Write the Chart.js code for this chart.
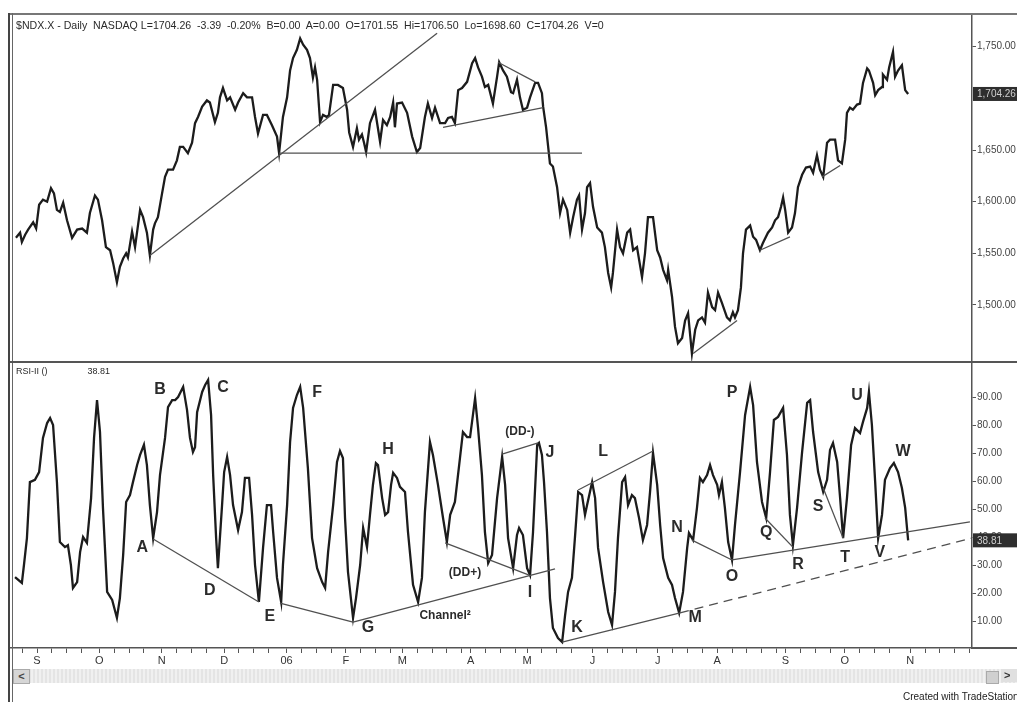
<!DOCTYPE html>
<html>
<head>
<meta charset="utf-8">
<script src="https://cdn.jsdelivr.net/npm/chart.js@4.4.1/dist/chart.umd.min.js"></script>
<style>
  body { margin: 0; width: 1017px; height: 702px; background: #fff; position: relative; overflow: hidden;
         font-family: "Liberation Sans", Arial, sans-serif; color: #333; }
  canvas { position: absolute; }
  #priceChart { left: 10px; top: 15px; }
  #rsiChart { left: 10px; top: 362px; }
  .hline { position: absolute; height: 1px; background: #555; }
  .frameL { position: absolute; left: 8px; top: 13px; width: 2px; height: 689px; background: #444; }
  .frameL2 { position: absolute; left: 12px; top: 13px; width: 1px; height: 689px; background: #666; }
  .frameT { position: absolute; left: 8px; top: 13px; width: 1009px; height: 2px; background: #777; }
  .hdr { position: absolute; left: 16px; top: 19px; font-size: 10.6px; line-height: 12px; white-space: pre; color: #2a2a2a; }
  .rsihdr { position: absolute; left: 16px; top: 366px; font-size: 9px; line-height: 11px; white-space: pre; color: #2a2a2a; }
  .scroll { position: absolute; left: 13px; top: 669px; width: 1004px; height: 14px;
            background: repeating-linear-gradient(90deg, #e4e4e4 0 2px, #f0f0f0 2px 4px); }
  .btnL { position: absolute; left: 13px; top: 669px; width: 15px; height: 13px; background: #d6d6d6;
          border: 1px solid #aaa; font-size: 11px; line-height: 13px; text-align: center; font-weight: bold; color: #444; }
  .btnR1 { position: absolute; left: 986px; top: 671px; width: 11px; height: 11px; background: #d0d0d0; border: 1px solid #aaa; }
  .btnR2 { position: absolute; left: 1001px; top: 669px; width: 16px; height: 13px; background: #e0e0e0;
           font-size: 11px; line-height: 13px; font-weight: bold; color: #333; padding-left: 3px; }
  .credit { position: absolute; left: 903px; top: 691px; font-size: 10px; line-height: 11px; white-space: nowrap; color: #222; }
</style>
</head>
<body>
<canvas id="priceChart" width="1007" height="347"></canvas>
<canvas id="rsiChart" width="1007" height="308"></canvas>

<div class="frameT"></div>
<div class="frameL"></div>
<div class="frameL2"></div>
<div class="hline" style="left:10px; top:361px; width:1007px; height:1.5px;"></div>
<div class="hline" style="left:972px; top:647px; width:45px; height:1.5px;"></div>
<div class="hdr">$NDX.X - Daily  NASDAQ L=1704.26  -3.39  -0.20%  B=0.00  A=0.00  O=1701.55  Hi=1706.50  Lo=1698.60  C=1704.26  V=0</div>
<div class="rsihdr">RSI-II ()                38.81</div>
<div class="scroll"></div>
<div class="btnL">&lt;</div>
<div class="btnR1"></div>
<div class="btnR2">&gt;</div>
<div class="credit">Created with TradeStation</div>

<script>
// x axis: trading day index, 0 = first trading day of Sep 2005
const monthDays = [0, 21, 42, 63, 84, 104, 123, 146, 165, 187, 209, 229, 252, 272, 294];
const monthNames = ['S', 'O', 'N', 'D', '06', 'F', 'M', 'A', 'M', 'J', 'J', 'A', 'S', 'O', 'N'];

const priceTicks = [1500, 1550, 1600, 1650, 1750];
const rsiTicks = [10, 20, 30, 40, 50, 60, 70, 80, 90];

const priceDay = [
  -7.1, -5.7, -5.1, -4.0, -3.0, -1.3, -0.3, 0.7, 2.0, 3.4,
  4.7, 5.7, 6.7, 7.7, 8.8, 10.1, 11.8, 13.5, 15.2, 16.8,
  17.8, 19.5, 20.5, 21.9, 23.2, 24.6, 25.6, 26.9, 27.9, 29.0,
  30.0, 30.6, 32.0, 33.0, 34.7, 35.7, 37.0, 38.0, 39.1, 39.7,
  40.7, 42.1, 43.1, 44.1, 45.8, 47.1, 48.1, 49.2, 50.8, 52.2,
  53.2, 54.2, 55.6, 57.2, 58.2, 59.9, 60.9, 61.6, 62.6, 64.0,
  65.0, 66.7, 67.7, 69.4, 70.7, 72.4, 73.4, 74.4, 76.1, 77.4,
  79.1, 80.8, 81.5, 82.8, 84.2, 85.2, 86.2, 87.5, 88.6, 89.6,
  90.9, 91.9, 92.9, 93.6, 94.3, 95.3, 96.3, 97.6, 98.3, 99.7,
  101.3, 103.0, 104.4, 105.1, 106.4, 107.7, 108.4, 109.4, 110.1, 110.8,
  112.1, 113.8, 115.5, 116.5, 117.8, 118.9, 119.9, 120.5, 121.2, 122.9,
  124.6, 126.3, 127.9, 129.0, 130.6, 131.6, 133.0, 134.0, 135.7, 137.4,
  138.4, 139.7, 140.7, 141.8, 143.1, 144.8, 146.5, 147.5, 148.5, 149.8,
  150.8, 151.9, 153.5, 154.9, 155.6, 156.9, 158.2, 159.6, 160.3, 161.6,
  162.6, 163.6, 165.0, 166.0, 167.7, 168.7, 170.0, 170.4, 171.4, 172.1,
  172.7, 173.7, 175.1, 176.1, 177.1, 178.5, 179.5, 180.5, 181.8, 182.5,
  183.5, 184.5, 185.2, 186.2, 187.2, 188.6, 190.2, 191.2, 192.3, 193.3,
  193.9, 195.3, 196.3, 197.3, 198.7, 199.7, 200.7, 202.0, 203.7, 204.7,
  205.7, 207.4, 208.8, 209.8, 210.8, 212.1, 212.5, 213.8, 214.8, 215.8,
  217.2, 218.2, 219.2, 220.5, 221.6, 222.6, 223.9, 224.9, 225.9, 227.3,
  228.3, 229.3, 230.6, 232.3, 233.3, 234.3, 235.0, 236.0, 237.0, 237.7,
  238.7, 240.1, 241.1, 242.1, 243.4, 244.4, 246.1, 247.5, 248.5, 249.5,
  250.5, 251.2, 251.9, 252.9, 254.2, 255.2, 256.2, 257.6, 258.9, 260.3,
  261.3, 262.6, 263.6, 264.7, 266.0, 267.0, 268.7, 269.7, 271.0, 272.1,
  272.7, 273.7, 274.7, 276.1, 277.1, 278.1, 279.5, 280.1, 281.5, 282.2,
  283.2, 284.5, 284.8, 286.2, 286.9, 288.2, 288.9, 289.9, 291.2, 292.3, 293.3
];
const priceVal = [
  1565, 1570, 1561, 1568, 1573, 1580, 1574, 1597, 1602, 1600,
  1613, 1608, 1592, 1590, 1599, 1582, 1565, 1573, 1574, 1570,
  1589, 1606, 1602, 1582, 1556, 1553, 1541, 1522, 1537, 1545,
  1550, 1546, 1571, 1556, 1592, 1585, 1570, 1548, 1573, 1579,
  1585, 1608, 1624, 1631, 1631, 1640, 1653, 1653, 1647, 1657,
  1676, 1682, 1692, 1698, 1696, 1677, 1686, 1701, 1710, 1698,
  1701, 1689, 1696, 1705, 1701, 1701, 1682, 1666, 1684, 1684,
  1674, 1663, 1647, 1682, 1701, 1727, 1739, 1747, 1758, 1752,
  1747, 1739, 1720, 1730, 1718, 1677, 1684, 1682, 1684, 1713,
  1713, 1710, 1689, 1667, 1653, 1671, 1660, 1665, 1657, 1648,
  1676, 1689, 1658, 1679, 1674, 1682, 1696, 1672, 1695, 1696,
  1686, 1663, 1648, 1652, 1682, 1695, 1681, 1691, 1676, 1676,
  1681, 1682, 1676, 1708, 1710, 1716, 1734, 1739, 1730, 1721,
  1711, 1713, 1695, 1721, 1735, 1727, 1721, 1706, 1705, 1718,
  1701, 1689, 1691, 1701, 1715, 1715, 1705, 1692, 1672, 1653,
  1637, 1634, 1614, 1589, 1602, 1592, 1570, 1585, 1602, 1606,
  1573, 1589, 1614, 1618, 1595, 1575, 1570, 1556, 1531, 1517,
  1531, 1573, 1556, 1550, 1570, 1573, 1553, 1556, 1527, 1550,
  1585, 1585, 1553, 1546, 1534, 1524, 1534, 1508, 1479, 1463,
  1468, 1485, 1492, 1453, 1476, 1485, 1488, 1483, 1512, 1498,
  1495, 1512, 1502, 1488, 1485, 1493, 1488, 1495, 1517, 1550,
  1573, 1577, 1566, 1563, 1553, 1560, 1570, 1575, 1582, 1585,
  1595, 1604, 1592, 1570, 1575, 1589, 1614, 1626, 1633, 1634,
  1628, 1645, 1631, 1624, 1657, 1660, 1660, 1640, 1637, 1660,
  1686, 1691, 1689, 1694, 1695, 1715, 1729, 1727, 1715, 1703,
  1708, 1711, 1723, 1718, 1730, 1745, 1721, 1727, 1732, 1708, 1704.26
];

const rsiDay = [
  -7.4, -5.1, -4.4, -3.4, -2.4, -0.7, 0.7, 2.0, 3.4, 4.4,
  5.4, 6.7, 7.7, 9.4, 10.4, 11.4, 12.1, 13.5, 14.5, 15.5,
  16.8, 18.2, 19.2, 20.2, 21.2, 22.2, 23.6, 25.3, 26.9, 27.9,
  29.0, 30.0, 31.3, 32.3, 33.7, 34.7, 36.0, 37.0, 38.0, 39.1,
  40.4, 41.4, 43.1, 44.1, 45.5, 46.5, 47.5, 49.2, 50.5, 51.5,
  52.5, 53.2, 53.9, 55.6, 56.6, 57.6, 58.6, 59.3, 60.3, 60.9,
  62.3, 63.0, 64.0, 65.0, 66.0, 67.7, 69.0, 70.0, 71.4, 72.4,
  73.4, 74.7, 76.1, 77.4, 78.8, 79.5, 80.8, 82.2, 82.8, 84.2,
  85.2, 86.2, 87.5, 88.6, 89.6, 91.2, 92.6, 94.3, 96.0, 97.0,
  98.0, 99.7, 101.0, 102.0, 103.0, 103.7, 104.7, 106.4, 107.4, 108.8,
  109.8, 111.1, 112.1, 113.1, 114.1, 114.8, 116.2, 117.2, 118.2, 119.2,
  119.9, 121.2, 122.2, 123.9, 124.9, 126.6, 128.3, 129.6, 130.6, 132.3,
  133.3, 135.0, 136.7, 138.0, 139.1, 140.7, 142.4, 143.4, 144.8, 145.8,
  147.5, 148.5, 149.8, 150.8, 151.9, 153.2, 154.9, 156.6, 157.6, 158.6,
  160.3, 161.6, 162.3, 163.6, 165.0, 166.0, 167.0, 168.4, 169.0, 170.0,
  170.7, 171.7, 172.7, 173.7, 175.4, 176.8, 177.8, 178.8, 180.1, 181.1,
  182.2, 183.5, 184.5, 185.2, 186.9, 187.9, 188.9, 190.6, 192.3, 193.6,
  194.6, 195.6, 197.0, 198.0, 199.0, 200.3, 201.3, 202.7, 204.0, 205.4,
  206.4, 207.4, 208.8, 209.8, 210.8, 212.5, 213.8, 214.8, 216.2, 217.5,
  218.9, 219.5, 220.9, 222.2, 223.2, 224.2, 225.6, 226.6, 227.6, 229.0,
  229.6, 230.6, 231.6, 232.7, 234.0, 235.0, 236.7, 238.4, 240.1, 241.1,
  242.4, 244.1, 245.5, 246.8, 248.1, 249.5, 251.2, 252.5, 253.5, 254.5,
  255.9, 257.6, 259.3, 260.3, 261.3, 263.0, 264.7, 266.0, 267.0, 268.0,
  269.4, 270.4, 271.4, 272.7, 274.1, 275.4, 277.1, 278.1, 279.5, 280.1,
  281.1, 282.2, 283.2, 284.5, 285.5, 287.2, 288.5, 289.9, 291.2, 292.3, 293.3
];
const rsiVal = [
  25.7, 23.6, 30.0, 39.6, 59.6, 60.4, 63.2, 75.4, 80.7, 82.5,
  80.0, 59.6, 38.2, 36.4, 37.1, 30.0, 21.8, 23.9, 34.6, 40.0,
  37.9, 53.9, 75.4, 88.9, 77.5, 50.4, 20.4, 17.5, 11.1, 18.2,
  33.6, 52.5, 55.0, 59.6, 65.7, 69.3, 72.9, 65.7, 51.4, 39.6,
  48.9, 62.1, 75.4, 86.4, 88.9, 88.9, 90.0, 93.6, 85.4, 75.4,
  70.4, 72.1, 84.6, 91.8, 94.3, 96.1, 83.6, 62.1, 39.6, 28.9,
  51.4, 63.2, 68.6, 62.1, 51.4, 42.5, 48.9, 61.1, 61.1, 47.9,
  30.0, 16.8, 36.1, 51.4, 51.4, 41.8, 25.4, 16.8, 30.0, 51.4,
  73.9, 86.1, 90.7, 93.6, 86.1, 64.6, 39.6, 28.9, 23.9, 21.8,
  34.6, 51.4, 66.8, 70.7, 68.2, 46.8, 27.5, 11.1, 18.2, 30.0,
  43.2, 36.4, 47.9, 58.6, 66.4, 65.7, 53.9, 47.9, 48.9, 58.6,
  62.9, 61.1, 57.9, 56.1, 41.8, 22.9, 16.8, 25.4, 48.9, 73.9,
  69.3, 58.6, 46.8, 38.2, 47.9, 52.5, 68.2, 77.5, 75.7, 75.7,
  89.6, 78.9, 62.1, 41.8, 30.7, 33.6, 53.9, 68.6, 58.6, 39.6,
  28.9, 40.7, 43.2, 40.7, 28.9, 26.4, 41.8, 72.9, 73.6, 69.3,
  59.6, 41.8, 18.2, 7.5, 3.9, 2.5, 12.1, 20.4, 25.4, 39.6,
  56.1, 55.0, 47.9, 51.4, 59.6, 53.9, 36.1, 23.9, 13.2, 8.6,
  20.4, 39.6, 59.6, 61.4, 51.4, 55.0, 53.9, 46.8, 38.9, 44.3,
  56.1, 70.0, 58.6, 44.3, 32.5, 25.4, 22.9, 18.2, 12.9, 20.4,
  36.1, 41.4, 38.9, 50.4, 61.1, 59.6, 62.1, 65.7, 62.1, 58.6,
  55.0, 59.6, 50.4, 38.2, 31.8, 44.3, 63.2, 83.6, 93.6, 87.1,
  66.8, 52.5, 46.8, 63.2, 81.8, 82.9, 86.1, 69.3, 47.9, 37.1,
  50.4, 70.4, 87.9, 88.9, 77.5, 63.2, 56.1, 60.4, 71.1, 73.6,
  66.8, 53.9, 39.6, 53.9, 72.9, 78.9, 77.1, 81.1, 86.1, 91.8,
  80.0, 59.6, 39.6, 47.9, 60.4, 64.6, 66.4, 63.2, 57.5, 50.4, 38.81
];

// trendlines: [day1, value1, day2, value2]
const priceLines = [
  [38.0, 1548, 134.7, 1763],
  [81.5, 1647, 183.5, 1647],
  [136.7, 1672, 170.4, 1691],
  [155.2, 1735, 167.7, 1716],
  [220.9, 1453, 235.7, 1485],
  [243.4, 1553, 253.5, 1566],
  [264.3, 1624, 270.4, 1635]
];
const rsiLines = [
  [39.1, 39.3, 74.7, 16.8],
  [81.8, 16.4, 106.4, 9.6],
  [106.4, 9.6, 174.4, 28.6],
  [137.4, 37.9, 165.7, 26.4],
  [156.6, 69.6, 168.7, 73.6],
  [182.2, 56.8, 207.4, 70.7],
  [176.8, 2.5, 216.5, 12.9],
  [220.5, 38.9, 234.0, 31.8],
  [234.0, 31.8, 314.1, 45.4],
  [245.1, 46.8, 254.5, 36.4],
  [264.7, 57.5, 271.4, 39.6]
];
const rsiDashed = [
  [216.5, 12.9, 314.8, 39.6]
];

// annotation letters: [text, day, value]
const rsiLetters = [
  ['A', 35.4, 36.1], ['B', 41.4, 92.5], ['C', 62.6, 93.2], ['D', 58.2, 20.7],
  ['E', 78.4, 11.4], ['F', 94.3, 91.4], ['G', 111.4, 7.5], ['H', 118.2, 71.1],
  ['I', 166.0, 20.0], ['J', 172.7, 70.0], ['K', 181.8, 7.5], ['L', 190.6, 70.4],
  ['M', 221.6, 11.1], ['N', 215.5, 43.2], ['O', 234.0, 25.7], ['P', 234.0, 91.4],
  ['Q', 245.5, 41.4], ['R', 256.2, 30.0], ['S', 263.0, 50.7], ['T', 272.1, 32.5],
  ['U', 276.1, 90.4], ['V', 283.8, 34.6], ['W', 291.6, 70.4]
];
const rsiNotes = [
  ['(DD+)', 144.1, 27.1], ['(DD-)', 162.6, 77.5], ['Channel\u00B2', 137.4, 11.8]
];

const xMin = -9.1, xMax = 314.8;
const FONT = '"Liberation Sans", Arial, sans-serif';
Chart.defaults.font.family = FONT;

const fmt2 = v => v.toLocaleString('en-US', { minimumFractionDigits: 2, maximumFractionDigits: 2 });

function weekTicks() {
  const t = [-5];
  monthDays.forEach((m, i) => {
    t.push(m);
    const next = i < monthDays.length - 1 ? monthDays[i + 1] : 318;
    for (let k = m + 5; k < next - 2; k += 5) t.push(k);
  });
  return t.filter(v => v > xMin && v < xMax);
}

function segs(list, dashed) {
  return list.map(s => ({
    data: [{ x: s[0], y: s[1] }, { x: s[2], y: s[3] }],
    borderColor: '#505050',
    borderWidth: 1.3,
    borderDash: dashed ? [9, 6] : [],
    pointRadius: 0
  }));
}

const lastBox = {
  id: 'lastBox',
  afterDraw(chart, args, opts) {
    const s = chart.scales.y, ctx = chart.ctx;
    const y = s.getPixelForValue(opts.value);
    ctx.save();
    ctx.fillStyle = '#2e2e2e';
    ctx.fillRect(s.left + 1, y - 7, s.width, 14);
    ctx.fillStyle = '#cfcfcf';
    ctx.font = '10px ' + FONT;
    ctx.textBaseline = 'middle';
    ctx.fillText(opts.text, s.left + 5, y + 0.5);
    ctx.restore();
  }
};

const letters = {
  id: 'letters',
  afterDatasetsDraw(chart, args, opts) {
    if (!opts.items) return;
    const { ctx, scales: { x, y } } = chart;
    ctx.save();
    ctx.fillStyle = '#2b2b2b';
    ctx.textAlign = 'center';
    ctx.textBaseline = 'middle';
    opts.items.forEach(it => {
      ctx.font = opts.font;
      ctx.fillText(it[0], x.getPixelForValue(it[1]), y.getPixelForValue(it[2]));
    });
    ctx.restore();
  }
};

function yAxis(min, max, ticks) {
  return {
    position: 'right',
    min: min, max: max,
    afterBuildTicks: s => { s.ticks = ticks.map(v => ({ value: v })); },
    afterFit: s => { s.width = 45; s.paddingTop = 0; s.paddingBottom = 0; },
    grid: { drawOnChartArea: false, tickLength: 4, color: '#555' },
    border: { color: '#555', width: 1.5 },
    ticks: { padding: 1, color: '#444', font: { size: 10 }, callback: v => fmt2(v) }
  };
}

new Chart(document.getElementById('priceChart'), {
  type: 'line',
  data: {
    datasets: segs(priceLines, false).concat([{
      data: priceDay.map((d, i) => ({ x: d, y: priceVal[i] })),
      borderColor: '#1c1c1c',
      borderWidth: 2.3,
      pointRadius: 0,
      tension: 0
    }])
  },
  options: {
    responsive: false,
    animation: false,
    layout: { padding: 0 },
    plugins: {
      legend: { display: false },
      tooltip: { enabled: false },
      lastBox: { value: 1704.26, text: '1,704.26' }
    },
    scales: {
      x: { type: 'linear', min: xMin, max: xMax, display: false },
      y: yAxis(1444.8, 1780.7, priceTicks)
    }
  },
  plugins: [lastBox]
});

new Chart(document.getElementById('rsiChart'), {
  type: 'line',
  data: {
    datasets: segs(rsiLines, false).concat(segs(rsiDashed, true)).concat([{
      data: rsiDay.map((d, i) => ({ x: d, y: rsiVal[i] })),
      borderColor: '#1c1c1c',
      borderWidth: 2.3,
      pointRadius: 0,
      tension: 0
    }])
  },
  options: {
    responsive: false,
    animation: false,
    layout: { padding: 0 },
    plugins: {
      legend: { display: false },
      tooltip: { enabled: false },
      lastBox: { value: 38.81, text: '38.81' }
    },
    scales: {
      x: {
        type: 'linear', min: xMin, max: xMax,
        afterBuildTicks: s => { s.ticks = weekTicks().map(v => ({ value: v })); },
        afterFit: s => { s.height = 22; },
        grid: { drawOnChartArea: false, tickLength: 5, color: '#555' },
        border: { color: '#555', width: 1.5 },
        ticks: {
          autoSkip: false, maxRotation: 0, padding: 1, color: '#333', font: { size: 11 },
          callback: v => { const i = monthDays.indexOf(v); return i >= 0 ? monthNames[i] : ''; }
        }
      },
      y: yAxis(0.36, 102.5, rsiTicks)
    }
  },
  plugins: [lastBox, {
    id: 'rsiText',
    afterDatasetsDraw(chart) {
      letters.afterDatasetsDraw(chart, null, { items: rsiLetters, font: 'bold 16px ' + FONT });
      letters.afterDatasetsDraw(chart, null, { items: rsiNotes, font: 'bold 12px ' + FONT });
    }
  }]
});
</script>
</body>
</html>
